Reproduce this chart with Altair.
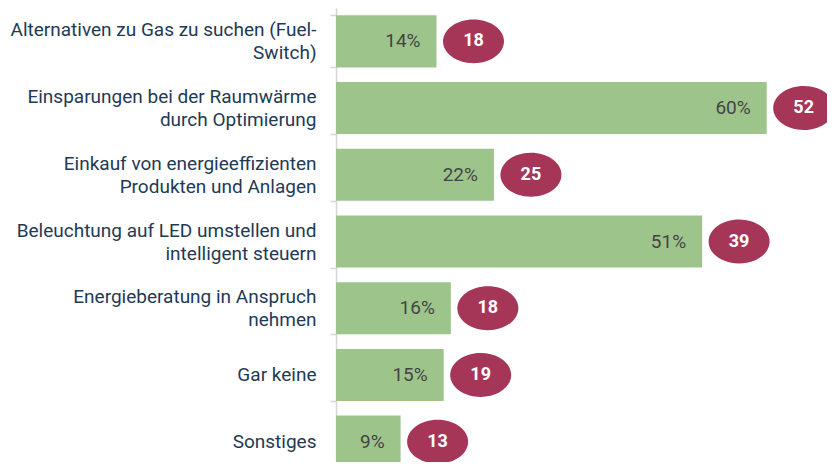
import altair as alt
import pandas as pd

categories = [
    "Alternativen zu Gas zu suchen (Fuel-\nSwitch)",
    "Einsparungen bei der Raumwärme\ndurch Optimierung",
    "Einkauf von energieeffizienten\nProdukten und Anlagen",
    "Beleuchtung auf LED umstellen und\nintelligent steuern",
    "Energieberatung in Anspruch\nnehmen",
    "Gar keine",
    "Sonstiges",
]
percent = [14, 60, 22, 51, 16, 15, 9]
counts = [18, 52, 25, 39, 18, 19, 13]

df = pd.DataFrame({"cat": categories, "pct": percent, "n": counts})
df["pct_label"] = df["pct"].astype(str) + "%"
df["n_label"] = df["n"].astype(str)

FONT = "Roboto"
ellipse = "M -1 0 A 1 0.72 0 1 1 1 0 A 1 0.72 0 1 1 -1 0 Z"

y_enc = alt.Y(
    "cat:N",
    sort=categories,
    scale=alt.Scale(range=[0, 467], paddingInner=0.22, paddingOuter=0.11),
    axis=alt.Axis(
        title=None,
        labelExpr="split(datum.label, '\\n')",
        labelFont=FONT,
        labelFontSize=19,
        labelColor="#1f3a55",
        labelLineHeight=23,
        labelPadding=14,
        labelLimit=330,
        labelOffset={"condition": {"test": "indexof(datum.label, '\\n') >= 0", "value": -11.5}, "value": 0},
        tickBand="extent",
        tickSize=6,
        tickColor="#d6d6d6",
        tickWidth=1.5,
        domainColor="#d6d6d6",
        domainWidth=1.5,
        grid=False,
    ),
)
x_enc = alt.X("pct:Q", scale=alt.Scale(domain=[0, 68.4], nice=False, zero=True), axis=None)

base = alt.Chart(df)

bars = base.mark_bar(color="#9dc58b").encode(x=x_enc, y=y_enc)
pct_text = base.mark_text(
    align="right", baseline="middle", dx=-16, font=FONT, fontSize=19, color="#444444"
).encode(x=x_enc, y=y_enc, text="pct_label:N")
badges = base.mark_point(
    shape=ellipse, size=3721, filled=True, opacity=1, color="#a53658", xOffset=37
).encode(x=x_enc, y=y_enc)
badge_text = base.mark_text(
    align="center", baseline="middle", dx=37, font=FONT, fontSize=18,
    fontWeight="bold", color="white"
).encode(x=x_enc, y=y_enc, text="n_label:N")

chart = (
    alt.layer(bars, pct_text, badges, badge_text)
    .properties(
        width=491,
        height=454,
        autosize=alt.AutoSizeParams(type="none"),
        padding={"left": 328, "top": 0, "right": 0, "bottom": 0},
    )
    .configure_view(stroke=None)
)

chart.save("out.html", embed_options={"renderer": "svg", "actions": False})
